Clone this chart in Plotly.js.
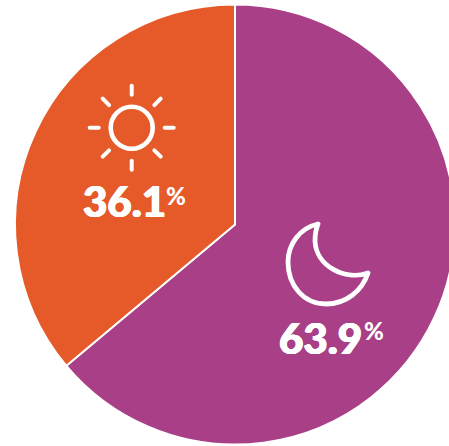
<!DOCTYPE html>
<html><head><meta charset="utf-8">
<script src="https://cdn.plot.ly/plotly-3.0.0.min.js"></script>
<style>html,body{margin:0;padding:0;background:#fff;overflow:hidden;width:449px;height:446px}
.shapelayer path{stroke-linecap:round;stroke-linejoin:round}</style></head>
<body><div id="chart" style="width:480px;height:446px"></div>
<script>
const categories = ["Night", "Day"];
const seriesValues = [63.9, 36.1];
const sliceColors = ["#A83F87", "#E55A28"];
const valueLabels = ["63.9", "36.1"];
const W = 480, H = 446, cx = 235, cy = 224.5, r = 220;
function sx(x){return x/W}
function sy(y){return 1-y/H}
const sc = [131.7,127.7];
const shapes = [];
for (let i=0;i<8;i++){
  const a=i*Math.PI/4, r1=i%2?32:33, r2=i%2?41:42;
  shapes.push({type:"line",xref:"paper",yref:"paper",
    x0:sx(sc[0]+r1*Math.cos(a)),y0:sy(sc[1]+r1*Math.sin(a)),
    x1:sx(sc[0]+r2*Math.cos(a)),y1:sy(sc[1]+r2*Math.sin(a)),
    line:{color:"#fff",width:4}});
}
shapes.push({type:"circle",xref:"paper",yref:"paper",x0:sx(sc[0]-21),x1:sx(sc[0]+21),y0:sy(sc[1]-21),y1:sy(sc[1]+21),line:{color:"#fff",width:4.6}});
const pt=(x,y)=>sx(x)+","+sy(y);
const moonPath="M "+pt(318,224)
 +" C "+pt(300,228)+" "+pt(288,244)+" "+pt(288,262)
 +" C "+pt(288,286)+" "+pt(304,304)+" "+pt(326,304)
 +" C "+pt(346,304)+" "+pt(362,291)+" "+pt(368,273)
 +" C "+pt(345,281)+" "+pt(316,266)+" "+pt(315,241)
 +" C "+pt(315,235)+" "+pt(316,229)+" "+pt(318,224)+" Z";
shapes.push({type:"path",xref:"paper",yref:"paper",path:moonPath,line:{color:"#fff",width:4.8}});
const ann=(x,y,t,s,sh)=>({xref:"paper",yref:"paper",x:sx(x),y:sy(y),text:t,showarrow:false,xanchor:"center",yanchor:"middle",font:{family:"Lato, sans-serif",size:s,color:"#fff",weight:900,shadow:sh}});
const thick="0.7px 0 0 #fff, -0.7px 0 0 #fff, 0 0.4px 0 #fff, 0 -0.4px 0 #fff";
Plotly.newPlot("chart",[{type:"pie",labels:categories,values:seriesValues,marker:{colors:sliceColors,line:{color:"#fff",width:2}},
  sort:false,direction:"clockwise",rotation:0,textinfo:"none",hoverinfo:"label+percent",
  domain:{x:[(cx-r)/W,(cx+r)/W],y:[Math.max(0,1-(cy+r)/H),Math.min(1,1-(cy-r)/H)]}}],
 {width:W,height:H,margin:{l:0,r:0,t:0,b:0},showlegend:false,paper_bgcolor:"#fff",shapes:shapes,
  annotations:[ann(124.5,201,valueLabels[1],42,thick),ann(176,195.5,"%",24,"none"),ann(320.5,338,valueLabels[0],42,thick),ann(374,330.5,"%",24,"none")]},
 {displayModeBar:false});
</script></body></html>
